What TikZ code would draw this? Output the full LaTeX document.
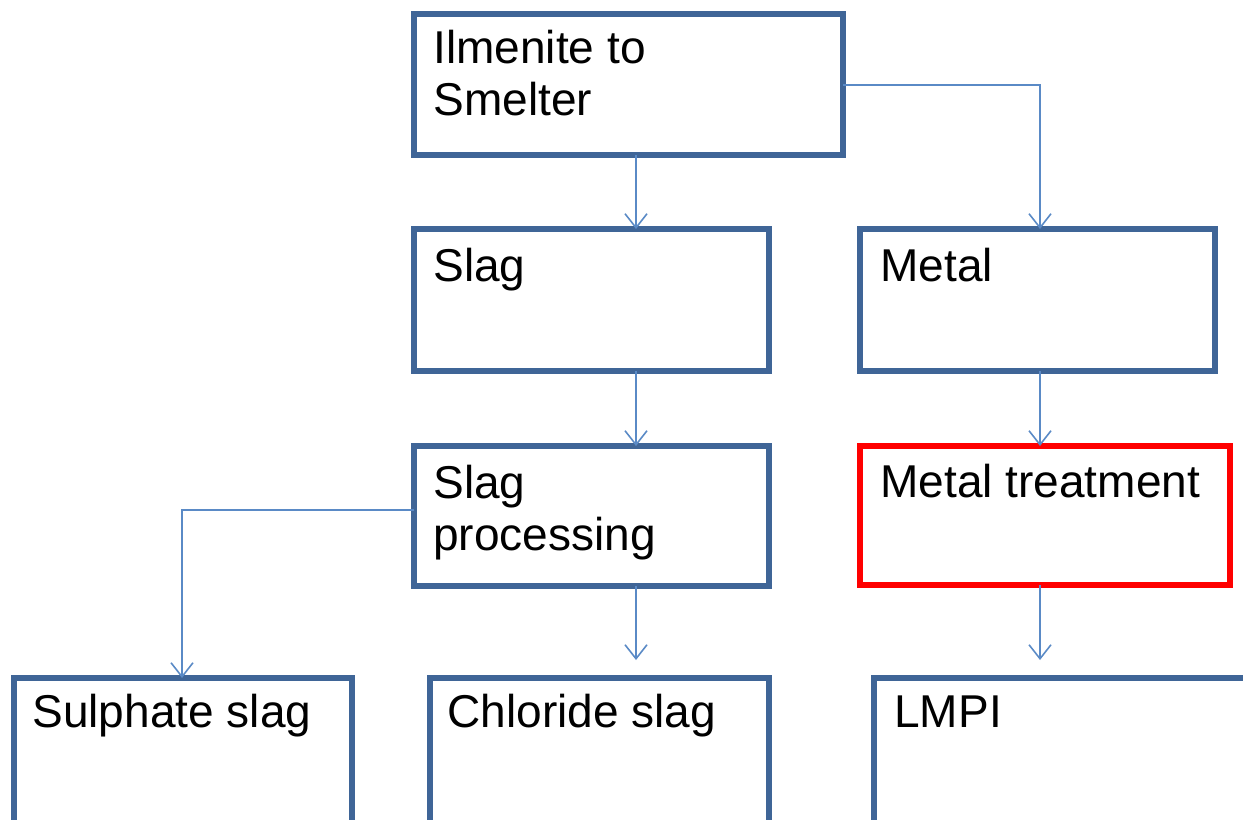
\documentclass[tikz,border=0pt]{standalone}
\usepackage{fontspec}
\setmainfont{Liberation Sans}
\usetikzlibrary{arrows.meta}
\definecolor{boxblue}{HTML}{3F6597}
\definecolor{linkblue}{HTML}{5A8AC6}
\definecolor{alertred}{HTML}{FF0000}
\begin{document}
\begin{tikzpicture}[x=0.02cm,y=-0.02cm,
  box/.style={draw=boxblue, line width=3pt, fill=white, anchor=north west,
    inner sep=0pt, outer sep=0pt},
  hot/.style={box, draw=alertred},
  lbl/.style={anchor=base west, inner sep=0pt, align=left,
    font=\fontsize{26.2}{29.6}\selectfont},
  conn/.style={draw=linkblue, line width=0.9pt,
    -{Straight Barb[length=0.28cm, width=0.44cm, line width=0.9pt]}}]
\useasboundingbox (0,0) rectangle (1243,819);
\clip (0,0) rectangle (1243,819);
\fill[white] (0,0) rectangle (1243,819);

% boxes (top-left corner of the border line; sizes in cm)
\node[box, minimum width=8.58cm, minimum height=2.82cm] (ilm)    at (414,14)  {};
\node[box, minimum width=7.10cm, minimum height=2.84cm] (slag)   at (414,229) {};
\node[box, minimum width=7.10cm, minimum height=2.84cm] (metal)  at (860,229) {};
\node[box, minimum width=7.10cm, minimum height=2.80cm] (proc)   at (414,446) {};
\node[hot, minimum width=7.40cm, minimum height=2.78cm] (treat)  at (860,446) {};
\node[box, minimum width=6.76cm, minimum height=3.60cm] (sulph)  at (14,678)  {};
\node[box, minimum width=6.78cm, minimum height=3.60cm] (chlor)  at (430,678) {};
\node[box, minimum width=8.00cm, minimum height=3.60cm] (lmpi)   at (874,678) {};

% labels (two-line labels are placed by the baseline of their last line)
\node[lbl] (tilm)   at (433,115) {Ilmenite to\\Smelter};
\node[lbl] (tslag)  at (433,281) {Slag};
\node[lbl] (tmetal) at (880,281) {Metal};
\node[lbl] (tproc)  at (433,550) {Slag\\processing};
\node[lbl] (ttreat) at (880,497) {Metal treatment};
\node[lbl] (tsulph) at (32,727)  {Sulphate slag};
\node[lbl] (tchlor) at (447,727) {Chloride slag};
\node[lbl] (tlmpi)  at (894,727) {LMPI};

% connector guide lines
\coordinate (xmid)  at (636,0);
\coordinate (xr)    at (1040,0);
\coordinate (xl)    at (182,0);
\coordinate (ybr)   at (0,85);
\coordinate (ysp)   at (0,510);
\coordinate (ygap)  at (0,660);

% connectors
\draw[conn] (ilm.south -| xmid) -- (slag.north -| xmid);
\draw[conn] (ilm.east |- ybr) -| (metal.north -| xr);
\draw[conn] (slag.south -| xmid) -- (proc.north -| xmid);
\draw[conn] (metal.south -| xr) -- (treat.north -| xr);
\draw[conn] (proc.west |- ysp) -| (sulph.north -| xl);
\draw[conn] (proc.south -| xmid) -- (ygap -| xmid);
\draw[conn] (treat.south -| xr) -- (ygap -| xr);
\end{tikzpicture}
\end{document}
